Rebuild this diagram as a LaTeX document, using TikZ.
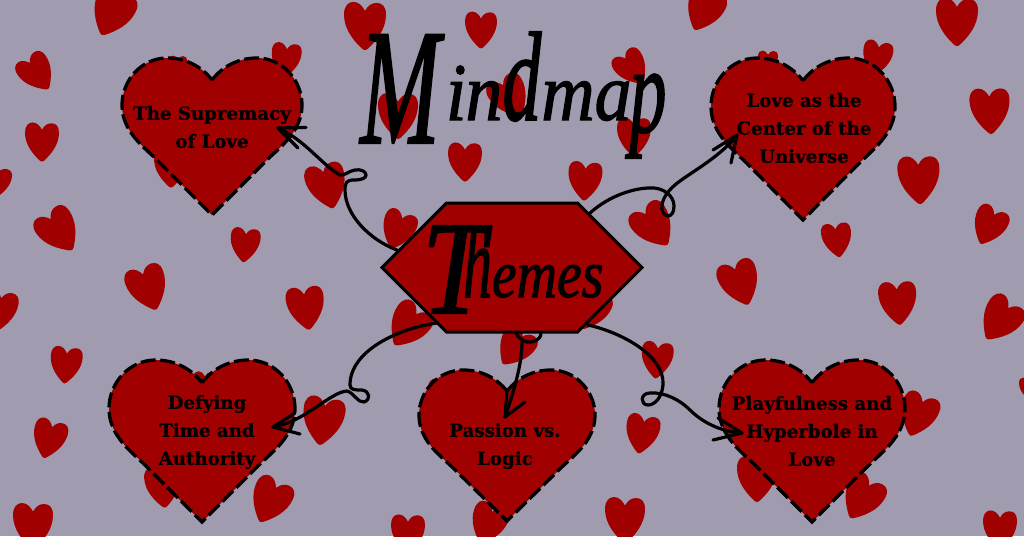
\documentclass[tikz,border=0pt]{standalone}
\usepackage{fontspec}
\usepackage{graphicx}
\usetikzlibrary{shapes.symbols}
\setmainfont{DejaVu Serif}[BoldFont={DejaVu Serif Bold},BoldFeatures={FakeBold=0.4}]
\newfontfamily\scriptish{Liberation Serif}[ItalicFeatures={FakeBold=1.5}]
\definecolor{bgc}{RGB}{161,155,176}
\definecolor{redc}{RGB}{160,0,0}
\newcommand{\bgh}[4]{% x y halfwidth rot
  \fill[redc,shift={(#1,#2)},rotate=#4,scale=#3]
   (-.12,1.1) .. controls (-.05,1.17) and (.05,1.17) .. (.12,1.1)
   .. controls (.55,.7) and (1,.15) .. (1,-.55)
   .. controls (1,-.95) and (.8,-1.1) .. (.55,-1.1)
   .. controls (.3,-1.1) and (.12,-.95) .. (0,-.72)
   .. controls (-.12,-.95) and (-.3,-1.15) .. (-.55,-1.15)
   .. controls (-.8,-1.15) and (-1,-.95) .. (-1,-.55)
   .. controls (-1,.15) and (-.55,.7) .. (-.12,1.1) -- cycle;}
\newcommand{\bigh}[4]{% cx top halfwidth height
  \filldraw[bigheart,shift={(#1,#2)},x=#3pt,y=-#4pt]
   (0,.14) .. controls (.12,.05) and (.3,0) .. (.5,0)
   .. controls (.78,0) and (1,.14) .. (1,.3)
   .. controls (1,.47) and (.75,.57) .. (.61,.65)
   -- (0,1) -- (-.61,.65)
   .. controls (-.75,.57) and (-1,.47) .. (-1,.3)
   .. controls (-1,.14) and (-.78,0) .. (-.5,0)
   .. controls (-.3,0) and (-.12,.05) .. (0,.14) -- cycle;}
\tikzset{
  bigheart/.style={fill=redc,draw=black,line width=3.3pt,dash pattern=on 15pt off 4.5pt},
  conn/.style={draw=black,line width=3.2pt,line cap=round,line join=round},
  label/.style={font=\fontsize{18.2}{28}\selectfont\bfseries,text=black,align=center,inner sep=0pt},
  hexa/.style={signal,signal to=east and west,signal from=nowhere,signal pointer angle=90,
     minimum width=260pt,minimum height=129pt,inner sep=0pt,outer sep=0pt,fill=redc,draw=black,line width=3pt}
}
\begin{document}
\begin{tikzpicture}[x=1pt,y=-1pt]
\useasboundingbox (0,0) rectangle (1024,536);
\fill[bgc] (0,0) rectangle (1024,536);
% background hearts
\bgh{112}{13}{21}{-25}
\bgh{365}{26}{21}{0}
\bgh{481}{30}{16}{0}
\bgh{704}{10}{19}{-25}
\bgh{957}{22}{21}{0}
\bgh{37}{73}{17}{35}
\bgh{286}{60}{15}{-5}
\bgh{632}{68}{16}{35}
\bgh{877}{58}{15}{-10}
\bgh{990}{111}{20}{3}
\bgh{42}{142}{17}{0}
\bgh{398}{116}{20}{0}
\bgh{510}{97}{19}{30}
\bgh{634}{137}{17}{0}
\bgh{465}{162}{17}{0}
\bgh{585}{181}{17}{-3}
\bgh{327}{186}{20}{15}
\bgh{171}{168}{17}{0}
\bgh{768}{62}{10}{0}
\bgh{178}{66}{9}{0}
\bgh{-5}{183}{15}{-15}
\bgh{919}{180}{21}{3}
\bgh{989}{226}{17}{-25}
\bgh{59}{231}{20}{35}
\bgh{245}{245}{15}{-5}
\bgh{398}{230}{17}{-20}
\bgh{654}{226}{20}{35}
\bgh{837}{240}{15}{8}
\bgh{148}{288}{20}{20}
\bgh{306}{308}{19}{8}
\bgh{740}{283}{20}{20}
\bgh{898}{303}{19}{5}
\bgh{-1}{311}{18}{-10}
\bgh{1000}{320}{20}{-35}
\bgh{66}{365}{16}{-5}
\bgh{408}{326}{20}{-35}
\bgh{515}{347}{18}{-35}
\bgh{591}{310}{18}{-25}
\bgh{657}{360}{16}{-5}
\bgh{49}{439}{17}{-15}
\bgh{323}{421}{21}{-8}
\bgh{445}{398}{17}{0}
\bgh{642}{434}{17}{-10}
\bgh{918}{415}{19}{-20}
\bgh{757}{479}{20}{0}
\bgh{862}{498}{20}{-30}
\bgh{163}{487}{18}{5}
\bgh{270}{501}{20}{-25}
\bgh{33}{526}{20}{0}
\bgh{408}{534}{17}{0}
\bgh{488}{524}{18}{-20}
\bgh{625}{520}{20}{0}
\bgh{1000}{530}{17}{0}
\bgh{1028}{388}{9}{0}
\bgh{205}{385}{12}{0}
% hexagon
\node[hexa] (themes) at (512,267.5) {};
\coordinate (c1) at (397,250);
\coordinate (c2) at (590,213);
\coordinate (c3) at (437,323);
\coordinate (c4) at (541,333);
\coordinate (c4b) at (516,333);
\coordinate (c5) at (588,325);
\coordinate (t1) at (278,128);
\coordinate (t2) at (737,135);
\coordinate (t3) at (273,427);
\coordinate (t4) at (505,417);
\coordinate (t5) at (742,433);
% hearts
\bigh{212}{58}{90}{157}
\bigh{803}{58}{92}{162}
\bigh{202}{360}{93}{162}
\bigh{507}{370}{88}{151}
\bigh{812}{360}{93}{162}
% labels
\node[label] (h1) at (212,127) {The Supremacy\\of Love};
\node[label] (h2) at (804,128) {Love as the\\Center of the\\Universe};
\node[label] (h3) at (207,432) {Defying\\Time and\\Authority};
\node[label] (h4) at (505,446) {Passion vs.\\Logic};
\node[label] (h5) at (812,431) {Playfulness and\\Hyperbole in\\Love};
% titles
\node[inner sep=0pt,anchor=base west] (title) at (360,120) {\scriptish\itshape\fontsize{82}{82}\selectfont
  \raisebox{-23pt}{\scalebox{.58}[1]{\fontsize{165}{165}\selectfont M}}\kern6pt\scalebox{.9}[1]{i\kern-1pt n}\scalebox{.95}[1.55]{d}\scalebox{.9}[1]{ma}\kern-2pt\raisebox{-12pt}{\scalebox{.9}[1.5]{p}}};
\node[inner sep=0pt,anchor=base west] (themeslabel) at (422,297) {\scriptish\itshape\fontsize{68}{68}\selectfont
  \raisebox{-16pt}{\scalebox{.85}[1]{\fontsize{133}{133}\selectfont T}}\kern-22pt\scalebox{.85}[1.5]{h}\scalebox{.82}[1]{emes}};
% connectors
\draw[conn] (c1) .. controls (370,240) and (345,215) .. (345,190)
  .. controls (345,182) and (347,180) .. (354,180)
  .. controls (362,180) and (366,178) .. (366,175)
  .. controls (366,171) and (360,169) .. (355,170)
  .. controls (348,171) and (345,176) .. (340,175)
  .. controls (322,165) and (305,140) .. (t1);
\draw[conn] (t1) -- (306,127.5) (t1) -- (298,148);
\draw[conn] (c2) .. controls (610,195) and (635,188) .. (650,188)
  .. controls (662,187) and (674,195) .. (674,206)
  .. controls (674,213) and (671,216) .. (668,216)
  .. controls (663,216) and (661,209) .. (662,205)
  .. controls (663,197) and (670,188) .. (680,181)
  .. controls (695,170) and (722,155) .. (t2);
\draw[conn] (t2) -- (713,150) (t2) -- (731,163);
\draw[conn] (c3) .. controls (400,328) and (350,350) .. (350,385)
  .. controls (350,390) and (355,390) .. (362,390)
  .. controls (370,391) and (371,400) .. (364,402)
  .. controls (358,403) and (354,393) .. (347,391)
  .. controls (330,392) and (305,422) .. (t3);
\draw[conn] (t3) -- (295,413) (t3) -- (300,434);
\draw[conn] (c4) .. controls (541,340) and (533,343) .. (527,342)
  .. controls (522,341) and (518,337) .. (c4b);
\draw[conn] (522,341) .. controls (522,362) and (516,385) .. (t4);
\draw[conn] (t4) -- (507,391) (t4) -- (525,402);
\draw[conn] (c5) .. controls (620,332) and (665,355) .. (663,385)
  .. controls (662,397) and (655,405) .. (648,405)
  .. controls (640,405) and (640,393) .. (650,393)
  .. controls (665,392) and (680,400) .. (690,410)
  .. controls (705,425) and (725,432) .. (t5);
\draw[conn] (t5) -- (718,418) (t5) -- (713,440);
\end{tikzpicture}
\end{document}
